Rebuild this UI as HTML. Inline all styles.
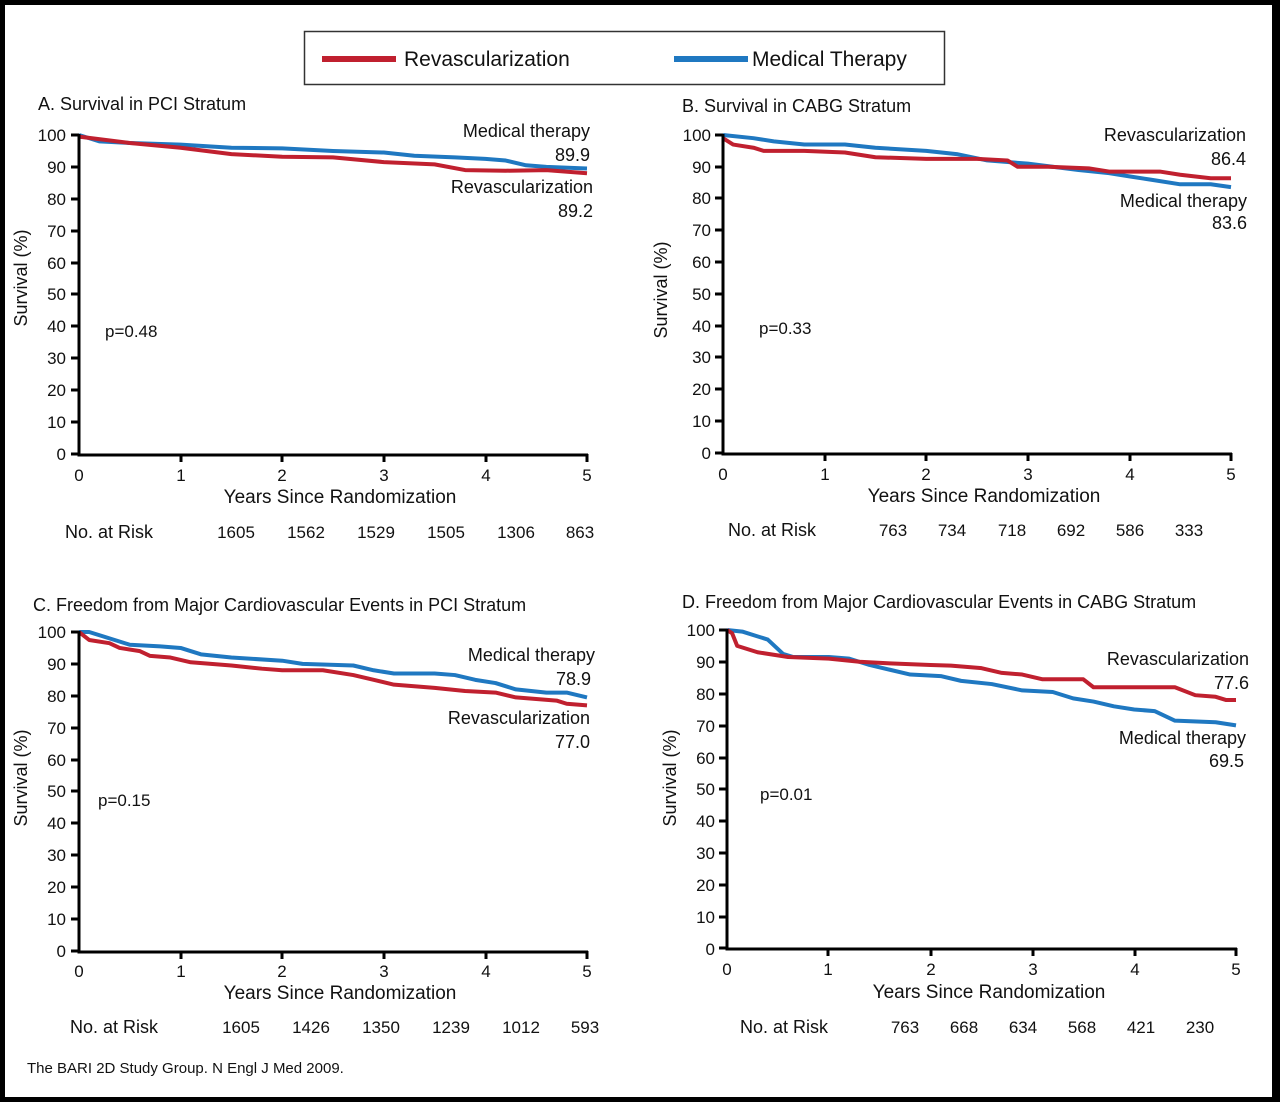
<!DOCTYPE html>
<html><head><meta charset="utf-8"><style>
html,body{margin:0;padding:0;background:#000;}
svg{display:block;}
text{font-family:"Liberation Sans",Arial,sans-serif;fill:#111;}
</style></head><body>
<svg width="1280" height="1102" viewBox="0 0 1280 1102" xmlns="http://www.w3.org/2000/svg">
<rect x="0" y="0" width="1280" height="1102" fill="#000"/>
<rect x="5" y="5" width="1267" height="1092" fill="#fff"/>

<!-- legend -->
<rect x="304.5" y="31.5" width="640" height="53" fill="#fff" stroke="#333" stroke-width="1.5"/>
<rect x="322" y="56" width="74" height="6" fill="#c0202f"/>
<text x="404" y="66" font-size="21">Revascularization</text>
<rect x="674" y="56" width="74" height="6" fill="#1f78c1"/>
<text x="752" y="66" font-size="21">Medical Therapy</text>

<defs>
<g id="axes">
</g>
</defs>

<!-- Panel A -->
<text x="38" y="110" font-size="18">A. Survival in PCI Stratum</text>
<g font-size="17" text-anchor="end">
<text x="66" y="141">100</text><text x="66" y="173">90</text><text x="66" y="205">80</text><text x="66" y="237">70</text><text x="66" y="269">60</text><text x="66" y="300">50</text><text x="66" y="332">40</text><text x="66" y="364">30</text><text x="66" y="396">20</text><text x="66" y="428">10</text><text x="66" y="460">0</text>
</g>
<g font-size="17" text-anchor="middle">
<text x="79" y="481">0</text><text x="181" y="481">1</text><text x="282" y="481">2</text><text x="384" y="481">3</text><text x="486" y="481">4</text><text x="587" y="481">5</text>
</g>
<text x="340" y="503" font-size="19" text-anchor="middle">Years Since Randomization</text>
<text transform="translate(27,278) rotate(-90)" font-size="18" text-anchor="middle">Survival (%)</text>
<text x="105" y="337" font-size="17">p=0.48</text>
<g font-size="18" text-anchor="end"><text x="590" y="137">Medical therapy</text><text x="590" y="161">89.9</text><text x="593" y="193">Revascularization</text><text x="593" y="217">89.2</text></g>
<g font-size="18"><text x="65" y="538">No. at Risk</text></g>
<g font-size="17" text-anchor="middle"><text x="236" y="538">1605</text><text x="306" y="538">1562</text><text x="376" y="538">1529</text><text x="446" y="538">1505</text><text x="516" y="538">1306</text><text x="580" y="538">863</text></g>
<g transform="translate(79,454) scale(101.6,-3.19)" fill="none" stroke-width="4" stroke-linejoin="round">
<polyline vector-effect="non-scaling-stroke" stroke="#1f78c1" points="0,100 0.2,98 0.5,97.5 1,97 1.5,96 2,95.8 2.5,95 3,94.5 3.3,93.5 3.7,93 4,92.5 4.2,92 4.4,90.5 4.6,90 5,89.5"/>
<polyline vector-effect="non-scaling-stroke" stroke="#c0202f" points="0,99.5 0.5,97.5 1,96 1.5,94 2,93.2 2.5,93 3,91.5 3.5,90.8 3.8,89 4.2,88.8 4.6,89 5,88"/>
</g>
<g stroke="#000" stroke-width="3" fill="none">
<path d="M79,134V455H588"/>
<path d="M71,135H79M71,167H79M71,199H79M71,231H79M71,263H79M71,294H79M71,326H79M71,358H79M71,390H79M71,422H79M71,454H79"/>
<path d="M181,454V462M282,454V462M384,454V462M486,454V462M587,454V462"/>
</g>

<!-- Panel B -->
<text x="682" y="112" font-size="18">B. Survival in CABG Stratum</text>
<g font-size="17" text-anchor="end">
<text x="711" y="141">100</text><text x="711" y="173">90</text><text x="711" y="204">80</text><text x="711" y="236">70</text><text x="711" y="268">60</text><text x="711" y="300">50</text><text x="711" y="332">40</text><text x="711" y="363">30</text><text x="711" y="395">20</text><text x="711" y="427">10</text><text x="711" y="459">0</text>
</g>
<g font-size="17" text-anchor="middle">
<text x="723" y="480">0</text><text x="825" y="480">1</text><text x="926" y="480">2</text><text x="1028" y="480">3</text><text x="1130" y="480">4</text><text x="1231" y="480">5</text>
</g>
<text x="984" y="502" font-size="19" text-anchor="middle">Years Since Randomization</text>
<text transform="translate(667,290) rotate(-90)" font-size="18" text-anchor="middle">Survival (%)</text>
<text x="759" y="334" font-size="17">p=0.33</text>
<g font-size="18" text-anchor="end"><text x="1246" y="141">Revascularization</text><text x="1246" y="165">86.4</text><text x="1247" y="207">Medical therapy</text><text x="1247" y="229">83.6</text></g>
<text x="728" y="536" font-size="18">No. at Risk</text>
<g font-size="17" text-anchor="middle"><text x="893" y="536">763</text><text x="952" y="536">734</text><text x="1012" y="536">718</text><text x="1071" y="536">692</text><text x="1130" y="536">586</text><text x="1189" y="536">333</text></g>
<g transform="translate(723,453) scale(101.6,-3.18)" fill="none" stroke-width="4" stroke-linejoin="round">
<polyline vector-effect="non-scaling-stroke" stroke="#1f78c1" points="0,100 0.3,99 0.5,98 0.8,97 1.2,97 1.5,96 2,95 2.3,94 2.6,92 3,91 3.5,89 3.8,88 4,87 4.2,86 4.5,84.5 4.8,84.5 5,83.6"/>
<polyline vector-effect="non-scaling-stroke" stroke="#c0202f" points="0,99 0.1,97 0.3,96 0.4,95 0.8,95 1.2,94.5 1.5,93 2,92.5 2.5,92.5 2.8,92 2.9,90 3.2,90 3.6,89.5 3.8,88.5 4.3,88.5 4.5,87.5 4.8,86.4 5,86.4"/>
</g>
<g stroke="#000" stroke-width="3" fill="none">
<path d="M723,134V454H1232"/>
<path d="M715,135H723M715,167H723M715,198H723M715,230H723M715,262H723M715,294H723M715,326H723M715,357H723M715,389H723M715,421H723M715,453H723"/>
<path d="M825,453V461M926,453V461M1028,453V461M1130,453V461M1231,453V461"/>
</g>

<!-- Panel C -->
<text x="33" y="611" font-size="18">C. Freedom from Major Cardiovascular Events in PCI Stratum</text>
<g font-size="17" text-anchor="end">
<text x="66" y="638">100</text><text x="66" y="670">90</text><text x="66" y="702">80</text><text x="66" y="734">70</text><text x="66" y="766">60</text><text x="66" y="797">50</text><text x="66" y="829">40</text><text x="66" y="861">30</text><text x="66" y="893">20</text><text x="66" y="925">10</text><text x="66" y="957">0</text>
</g>
<g font-size="17" text-anchor="middle">
<text x="79" y="977">0</text><text x="181" y="977">1</text><text x="282" y="977">2</text><text x="384" y="977">3</text><text x="486" y="977">4</text><text x="587" y="977">5</text>
</g>
<text x="340" y="999" font-size="19" text-anchor="middle">Years Since Randomization</text>
<text transform="translate(27,778) rotate(-90)" font-size="18" text-anchor="middle">Survival (%)</text>
<text x="98" y="806" font-size="17">p=0.15</text>
<g font-size="18" text-anchor="end"><text x="595" y="661">Medical therapy</text><text x="591" y="685">78.9</text><text x="590" y="724">Revascularization</text><text x="590" y="748">77.0</text></g>
<text x="70" y="1033" font-size="18">No. at Risk</text>
<g font-size="17" text-anchor="middle"><text x="241" y="1033">1605</text><text x="311" y="1033">1426</text><text x="381" y="1033">1350</text><text x="451" y="1033">1239</text><text x="521" y="1033">1012</text><text x="585" y="1033">593</text></g>
<g transform="translate(79,951) scale(101.6,-3.19)" fill="none" stroke-width="4" stroke-linejoin="round">
<polyline vector-effect="non-scaling-stroke" stroke="#1f78c1" points="0,100 0.1,100 0.3,98 0.5,96 0.8,95.5 1,95 1.2,93 1.5,92 2,91 2.2,90 2.7,89.5 2.9,88 3.1,87 3.5,87 3.7,86.5 3.9,85 4.1,84 4.3,82 4.6,81 4.8,81 5,79.5"/>
<polyline vector-effect="non-scaling-stroke" stroke="#c0202f" points="0,100 0.1,97.5 0.3,96.5 0.4,95 0.6,94 0.7,92.5 0.9,92 1.1,90.5 1.5,89.5 1.8,88.5 2,88 2.4,88 2.7,86.5 2.9,85 3.1,83.5 3.5,82.5 3.8,81.5 4.1,81 4.3,79.5 4.7,78.5 4.8,77.5 5,77"/>
</g>
<g stroke="#000" stroke-width="3" fill="none">
<path d="M79,631V952H588"/>
<path d="M71,632H79M71,664H79M71,696H79M71,728H79M71,760H79M71,791H79M71,823H79M71,855H79M71,887H79M71,919H79M71,951H79"/>
<path d="M181,951V959M282,951V959M384,951V959M486,951V959M587,951V959"/>
</g>

<!-- Panel D -->
<text x="682" y="608" font-size="18">D. Freedom from Major Cardiovascular Events in CABG Stratum</text>
<g font-size="17" text-anchor="end">
<text x="715" y="636">100</text><text x="715" y="668">90</text><text x="715" y="700">80</text><text x="715" y="732">70</text><text x="715" y="764">60</text><text x="715" y="795">50</text><text x="715" y="827">40</text><text x="715" y="859">30</text><text x="715" y="891">20</text><text x="715" y="923">10</text><text x="715" y="955">0</text>
</g>
<g font-size="17" text-anchor="middle">
<text x="727" y="975">0</text><text x="828" y="975">1</text><text x="931" y="975">2</text><text x="1033" y="975">3</text><text x="1135" y="975">4</text><text x="1236" y="975">5</text>
</g>
<text x="989" y="998" font-size="19" text-anchor="middle">Years Since Randomization</text>
<text transform="translate(676,778) rotate(-90)" font-size="18" text-anchor="middle">Survival (%)</text>
<text x="760" y="800" font-size="17">p=0.01</text>
<g font-size="18" text-anchor="end"><text x="1249" y="665">Revascularization</text><text x="1249" y="689">77.6</text><text x="1246" y="744">Medical therapy</text><text x="1244" y="767">69.5</text></g>
<text x="740" y="1033" font-size="18">No. at Risk</text>
<g font-size="17" text-anchor="middle"><text x="905" y="1033">763</text><text x="964" y="1033">668</text><text x="1023" y="1033">634</text><text x="1082" y="1033">568</text><text x="1141" y="1033">421</text><text x="1200" y="1033">230</text></g>
<g transform="translate(727,948) scale(101.8,-3.18)" fill="none" stroke-width="4" stroke-linejoin="round">
<polyline vector-effect="non-scaling-stroke" stroke="#1f78c1" points="0,100 0.15,99.5 0.3,98 0.4,97 0.55,92.5 0.65,91.5 1,91.5 1.2,91 1.4,89 1.6,87.5 1.8,86 2.1,85.5 2.3,84 2.6,83 2.9,81 3.2,80.5 3.4,78.5 3.6,77.5 3.8,76 4,75 4.2,74.5 4.4,71.5 4.8,71 5,70"/>
<polyline vector-effect="non-scaling-stroke" stroke="#c0202f" points="0,100 0.05,99 0.1,95 0.3,93 0.6,91.5 1,91 1.3,90 1.6,89.5 2,89 2.2,88.8 2.5,88 2.7,86.5 2.9,86 3.1,84.5 3.5,84.5 3.6,82 4.4,82 4.6,79.5 4.8,79 4.9,78 5,78"/>
</g>
<g stroke="#000" stroke-width="3" fill="none">
<path d="M727,629V949H1237"/>
<path d="M719,630H727M719,662H727M719,694H727M719,726H727M719,758H727M719,789H727M719,821H727M719,853H727M719,885H727M719,917H727M719,948H727"/>
<path d="M828,948V956M931,948V956M1033,948V956M1135,948V956M1236,948V956"/>
</g>

<text x="27" y="1073" font-size="15" fill="#222">The BARI 2D Study Group. N Engl J Med 2009.</text>
</svg>
</body></html>
